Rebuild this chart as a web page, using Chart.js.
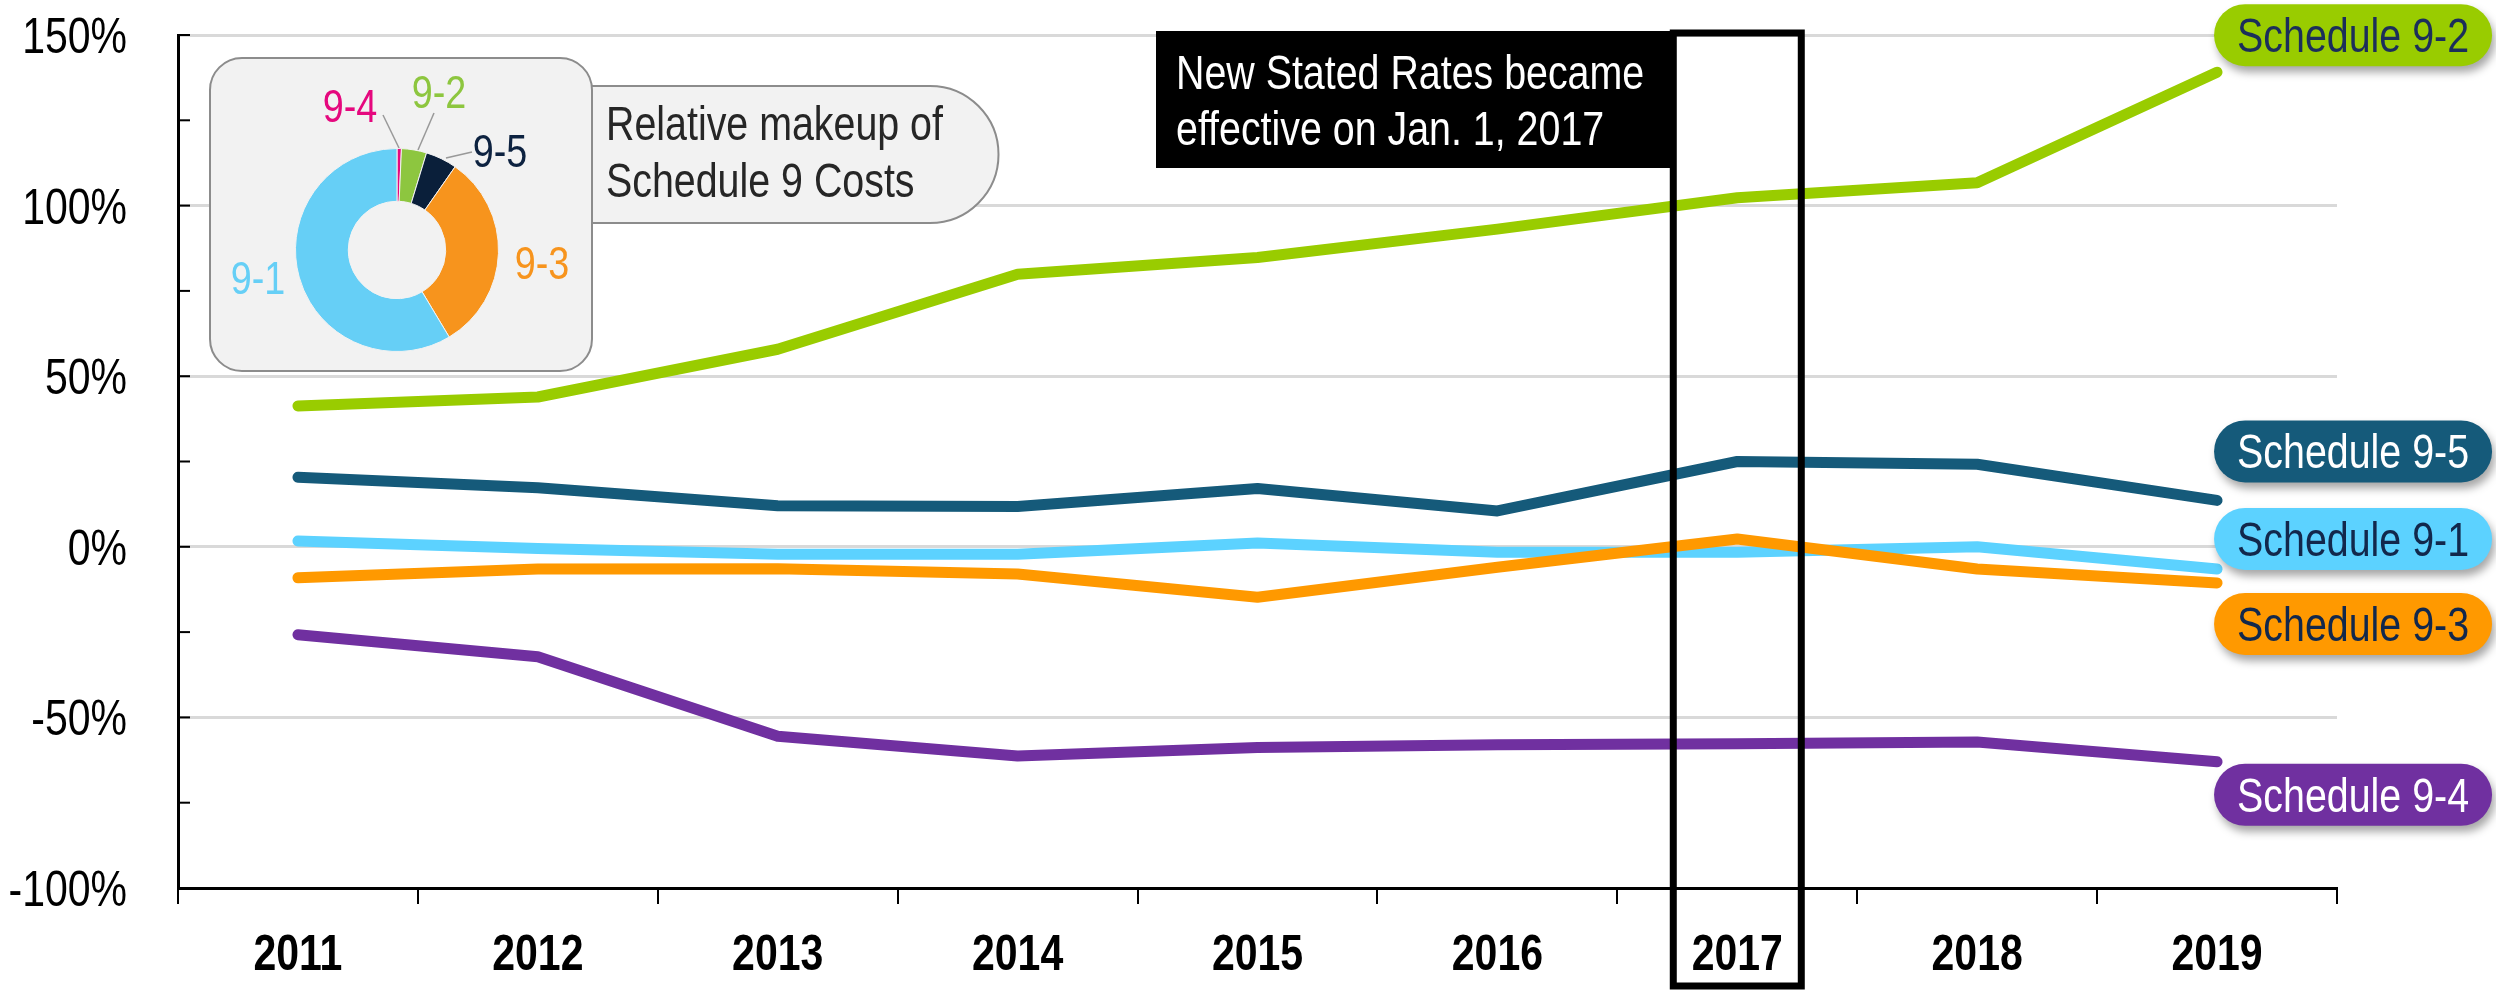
<!DOCTYPE html>
<html>
<head>
<meta charset="utf-8">
<script src="https://cdn.jsdelivr.net/npm/chart.js@4.4.0/dist/chart.umd.min.js"></script>
<style>
html, body { margin: 0; padding: 0; background: #fff; }
#wrap { position: relative; width: 2496px; height: 990px; }
#main { position: absolute; left: 0; top: 0; }
#donut { position: absolute; left: 295px; top: 148px; }
</style>
</head>
<body>
<div id="wrap">
<canvas id="main" width="2496" height="990"></canvas>
<canvas id="donut" width="204" height="204"></canvas>
</div>
<script>
// data (% change)
var years = ['2011', '2012', '2013', '2014', '2015', '2016', '2017', '2018', '2019'];
var sched91 = [1.7, -0.5, -2.2, -2.2, 1.1, -1.6, -1.6, 0.0, -6.5];
var sched92 = [41.3, 43.9, 57.9, 79.9, 84.8, 93.1, 102.3, 106.7, 139.1];
var sched93 = [-9.1, -6.5, -6.4, -8.0, -14.8, -6.0, 2.3, -6.5, -10.6];
var sched94 = [-25.8, -32.2, -55.5, -61.3, -58.8, -58.0, -57.7, -57.2, -63.0];
var sched95 = [20.4, 17.3, 12.0, 11.8, 17.1, 10.5, 25.0, 24.2, 13.6];
var yMin = -100;
var yMax = 150;

// relative makeup of schedule 9 costs (donut)
var makeupLabels = ['9-4', '9-2', '9-5', '9-3', '9-1'];
var makeupValues = [0.7, 4.0, 5.0, 31.7, 58.6];

var FONT = '"Liberation Sans", Arial, sans-serif';
var SQ = 0.82; // squeeze to look like a narrow face

// pill labels at the end of each line
var pills = [
    { ds: 3, text: 'Schedule 9-2', fill: '#99CC00', color: '#1B2E5A', dy: -37 },
    { ds: 2, text: 'Schedule 9-5', fill: '#155A7A', color: '#ffffff', dy: -49 },
    { ds: 1, text: 'Schedule 9-1', fill: '#5CD2FF', color: '#12284C', dy: -30 },
    { ds: 0, text: 'Schedule 9-3', fill: '#FF9900', color: '#12284C', dy: 41 },
    { ds: 4, text: 'Schedule 9-4', fill: '#7030A0', color: '#ffffff', dy: 33 }
];

function roundRect(ctx, x, y, w, h, r) {
    ctx.beginPath();
    ctx.moveTo(x + r, y);
    ctx.lineTo(x + w - r, y);
    ctx.arcTo(x + w, y, x + w, y + r, r);
    ctx.lineTo(x + w, y + h - r);
    ctx.arcTo(x + w, y + h, x + w - r, y + h, r);
    ctx.lineTo(x + r, y + h);
    ctx.arcTo(x, y + h, x, y + h - r, r);
    ctx.lineTo(x, y + r);
    ctx.arcTo(x, y, x + r, y, r);
    ctx.closePath();
}

// text squeezed horizontally, y is the baseline
function narrowText(ctx, text, x, y, align, font, color) {
    ctx.save();
    ctx.font = font;
    ctx.fillStyle = color;
    ctx.textAlign = align;
    ctx.textBaseline = 'alphabetic';
    ctx.translate(x, y);
    ctx.scale(SQ, 1);
    ctx.fillText(text, 0, 0);
    ctx.restore();
}

var extras = {
    id: 'extras',
    beforeDatasetsDraw: function(chart) {
        var ctx = chart.ctx;
        var yScale = chart.scales.y;
        var xScale = chart.scales.x;
        var left = chart.chartArea.left;
        ctx.save();
        // small inward tick marks every 25%
        ctx.strokeStyle = '#000';
        ctx.lineWidth = 2;
        yScale.ticks.forEach(function(t) {
            var py = yScale.getPixelForValue(t.value);
            ctx.beginPath();
            ctx.moveTo(left, py);
            ctx.lineTo(left + 12, py);
            ctx.stroke();
            if (t.label) {
                narrowText(ctx, t.label, left - 51, py + 18, 'right', '50px ' + FONT, '#000');
            }
        });
        // year labels
        xScale.ticks.forEach(function(t, i) {
            narrowText(ctx, years[i], xScale.getPixelForTick(i), 970, 'center', 'bold 50px ' + FONT, '#000');
        });

        // inset: callout shape then box
        ctx.fillStyle = '#f2f2f2';
        ctx.strokeStyle = '#8c8c8c';
        ctx.lineWidth = 2;
        ctx.beginPath();
        ctx.moveTo(560, 86);
        ctx.lineTo(930, 86);
        ctx.arc(930, 154.5, 68.5, -Math.PI / 2, Math.PI / 2);
        ctx.lineTo(560, 223);
        ctx.closePath();
        ctx.fill();
        ctx.stroke();

        roundRect(ctx, 210, 58, 382, 313, 32);
        ctx.fill();
        ctx.stroke();

        narrowText(ctx, 'Relative makeup of', 606, 140, 'left', '48px ' + FONT, '#262626');
        narrowText(ctx, 'Schedule 9 Costs', 606, 197, 'left', '48px ' + FONT, '#262626');

        // donut labels and leader lines
        ctx.strokeStyle = '#999';
        ctx.lineWidth = 1.5;
        [[383, 115, 399, 148], [434, 113, 418, 150], [472, 152, 446, 158]].forEach(function(l) {
            ctx.beginPath();
            ctx.moveTo(l[0], l[1]);
            ctx.lineTo(l[2], l[3]);
            ctx.stroke();
        });
        var lab = [
            ['9-4', '#E5087E', 350, 106],
            ['9-2', '#8DC63F', 439, 92],
            ['9-5', '#0D2240', 500, 151],
            ['9-3', '#F7941D', 542, 263],
            ['9-1', '#66CFF6', 258, 278]
        ];
        lab.forEach(function(l) {
            narrowText(ctx, l[0], l[2], l[3] + 16, 'center', '46px ' + FONT, l[1]);
        });
        ctx.restore();
    },
    afterDatasetsDraw: function(chart) {
        var ctx = chart.ctx;
        var xScale = chart.scales.x;
        ctx.save();

        // black note box
        ctx.fillStyle = '#000';
        ctx.fillRect(1156, 31, 517, 137);
        narrowText(ctx, 'New Stated Rates became', 1176, 89, 'left', '48px ' + FONT, '#fff');
        narrowText(ctx, 'effective on Jan. 1, 2017', 1176, 145, 'left', '48px ' + FONT, '#fff');

        // highlight 2017
        var cx = xScale.getPixelForValue(6);
        ctx.strokeStyle = '#000';
        ctx.lineWidth = 7;
        ctx.strokeRect(cx - 64, 33, 128, 953);

        // end-of-line pills
        pills.forEach(function(p) {
            var meta = chart.getDatasetMeta(p.ds);
            var pt = meta.data[meta.data.length - 1];
            var w = 278, h = 62;
            var x = pt.x - 3;
            var y = pt.y + p.dy - h / 2;
            ctx.save();
            ctx.shadowColor = 'rgba(0,0,0,0.35)';
            ctx.shadowBlur = 8;
            ctx.shadowOffsetX = 3;
            ctx.shadowOffsetY = 6;
            ctx.fillStyle = p.fill;
            roundRect(ctx, x, y, w, h, 31);
            ctx.fill();
            ctx.restore();
            narrowText(ctx, p.text, x + w / 2, y + h / 2 + 17, 'center', '48px ' + FONT, p.color);
        });
        ctx.restore();
    }
};

function lineSet(label, data, color) {
    return {
        label: label,
        data: data,
        borderColor: color,
        backgroundColor: color,
        borderWidth: 11,
        pointRadius: 0,
        tension: 0,
        fill: false,
        borderCapStyle: 'round',
        borderJoinStyle: 'round'
    };
}

var mainChart = new Chart(document.getElementById('main').getContext('2d'), {
    type: 'line',
    data: {
        labels: years,
        datasets: [
            lineSet('Schedule 9-3', sched93, '#FF9900'),
            lineSet('Schedule 9-1', sched91, '#5CD2FF'),
            lineSet('Schedule 9-5', sched95, '#155A7A'),
            lineSet('Schedule 9-2', sched92, '#99CC00'),
            lineSet('Schedule 9-4', sched94, '#7030A0')
        ]
    },
    options: {
        responsive: false,
        animation: false,
        layout: { padding: { top: 35, right: 159, left: 0, bottom: 0 } },
        plugins: { legend: { display: false }, tooltip: { enabled: false } },
        scales: {
            x: {
                offset: true,
                grid: { offset: true, drawOnChartArea: false, tickLength: 16, tickColor: '#000', lineWidth: 2 },
                border: { display: true, color: '#000', width: 3 },
                ticks: { color: 'rgba(0,0,0,0)', padding: 22, font: { family: FONT, size: 50, weight: 'bold' } },
                afterFit: function(s) { s.height = 102; s.paddingLeft = 0; s.paddingRight = 0; }
            },
            y: {
                min: yMin,
                max: yMax,
                grid: {
                    drawTicks: false,
                    lineWidth: 3,
                    color: function(c) {
                        var v = c.tick ? c.tick.value : 0;
                        return (v % 50 === 0 && v !== yMin) ? '#d9d9d9' : 'rgba(0,0,0,0)';
                    }
                },
                border: { display: true, color: '#000', width: 3 },
                ticks: {
                    stepSize: 25,
                    padding: 51,
                    color: 'rgba(0,0,0,0)',
                    font: { family: FONT, size: 50 },
                    callback: function(v) { return v % 50 === 0 ? v + '%' : ''; }
                },
                afterFit: function(s) { s.width = 178; s.paddingTop = 0; s.paddingBottom = 0; }
            }
        }
    },
    plugins: [extras]
});

var donutChart = new Chart(document.getElementById('donut').getContext('2d'), {
    type: 'doughnut',
    data: {
        labels: makeupLabels,
        datasets: [{
            data: makeupValues,
            backgroundColor: ['#E5087E', '#8DC63F', '#0A1F3A', '#F7941D', '#66CFF6'],
            borderColor: '#f2f2f2',
            borderWidth: 1
        }]
    },
    options: {
        responsive: false,
        animation: false,
        cutout: '48%',
        plugins: { legend: { display: false }, tooltip: { enabled: false } }
    }
});
</script>
</body>
</html>
